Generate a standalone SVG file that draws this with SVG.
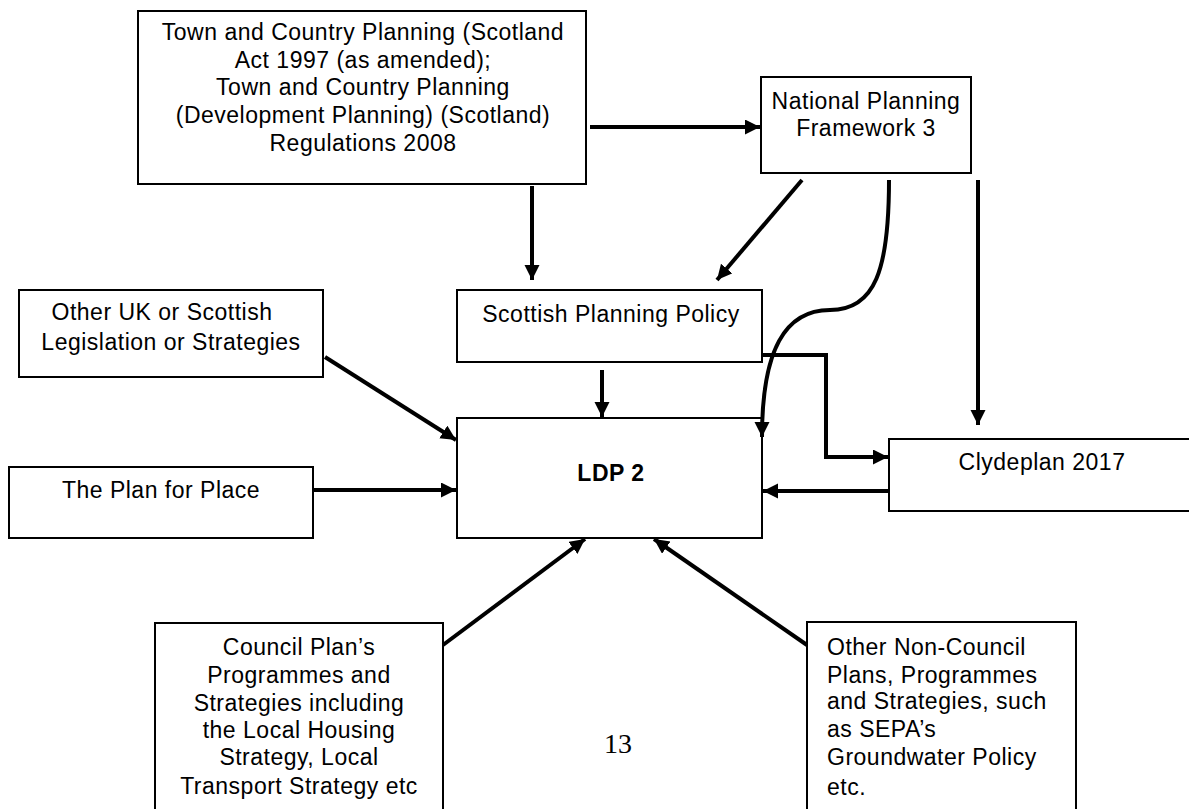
<svg xmlns="http://www.w3.org/2000/svg" width="1189" height="809" viewBox="0 0 1189 809">
<style>
.box{fill:#fff;stroke:#000;stroke-width:2}
.t{font-family:"Liberation Sans",Arial,sans-serif;font-size:23px;fill:#000;letter-spacing:0.5px}
.c{text-anchor:middle}
.b{font-weight:bold}
.con{fill:none;stroke:#000;stroke-width:4}
</style>
<defs>
<marker id="ah" markerUnits="userSpaceOnUse" markerWidth="16" markerHeight="16" refX="15" refY="7.5" orient="auto">
<path d="M0,0 L15,7.5 L0,15 z" fill="#000"/>
</marker>
</defs>
<rect width="1189" height="809" fill="#fff"/>

<g id="act">
<rect class="box" x="138" y="11" width="448" height="173"/>
<text class="t c" x="363" y="40">Town and Country Planning (Scotland</text>
<text class="t c" x="363" y="68">Act 1997 (as amended);</text>
<text class="t c" x="363" y="95">Town and Country Planning</text>
<text class="t c" x="363" y="123">(Development Planning) (Scotland)</text>
<text class="t c" x="363" y="151">Regulations 2008</text>
</g>

<g id="npf3">
<rect class="box" x="761" y="77" width="210" height="96"/>
<text class="t c" x="866" y="109">National Planning</text>
<text class="t c" x="866" y="136">Framework 3</text>
</g>

<g id="otheruk">
<rect class="box" x="19" y="290" width="304" height="87"/>
<text class="t c" x="162" y="320">Other UK or Scottish</text>
<text class="t c" x="171" y="350">Legislation or Strategies</text>
</g>

<g id="spp">
<rect class="box" x="457" y="290" width="305" height="72"/>
<text class="t c" x="611" y="322">Scottish Planning Policy</text>
</g>

<g id="ldp2">
<rect class="box" x="457" y="418" width="305" height="120"/>
<text class="t c b" x="611" y="481">LDP 2</text>
</g>

<g id="clydeplan">
<rect class="box" x="889" y="439" width="310" height="72"/>
<text class="t c" x="1042" y="470">Clydeplan 2017</text>
</g>

<g id="planforplace">
<rect class="box" x="9" y="467" width="304" height="71"/>
<text class="t c" x="161" y="498">The Plan for Place</text>
</g>

<g id="council">
<rect class="box" x="155" y="623" width="288" height="200"/>
<text class="t c" x="299" y="655">Council Plan’s</text>
<text class="t c" x="299" y="683">Programmes and</text>
<text class="t c" x="299" y="711">Strategies including</text>
<text class="t c" x="299" y="738">the Local Housing</text>
<text class="t c" x="299" y="765">Strategy, Local</text>
<text class="t c" x="299" y="794">Transport Strategy etc</text>
</g>

<g id="noncouncil">
<rect class="box" x="807" y="622" width="269" height="200"/>
<text class="t" x="827" y="655">Other Non-Council</text>
<text class="t" x="827" y="683">Plans, Programmes</text>
<text class="t" x="827" y="709">and Strategies, such</text>
<text class="t" x="827" y="737">as SEPA’s</text>
<text class="t" x="827" y="765">Groundwater Policy</text>
<text class="t" x="827" y="795">etc.</text>
</g>

<g id="connectors">
<line class="con" x1="590" y1="127" x2="760" y2="127" marker-end="url(#ah)"/>
<line class="con" x1="532" y1="186" x2="532" y2="280" marker-end="url(#ah)"/>
<line class="con" x1="802" y1="180" x2="717" y2="280" marker-end="url(#ah)"/>
<path class="con" d="M889,180 C889,270 875,310 830,310 C785,310 762,350 762,437" marker-end="url(#ah)"/>
<line class="con" x1="978" y1="180" x2="978" y2="425" marker-end="url(#ah)"/>
<polyline class="con" points="763,355 826,355 826,457 888,457" marker-end="url(#ah)"/>
<line class="con" x1="602" y1="370" x2="602" y2="417" marker-end="url(#ah)"/>
<line class="con" x1="325" y1="357" x2="456" y2="440" marker-end="url(#ah)"/>
<line class="con" x1="314" y1="490" x2="456" y2="490" marker-end="url(#ah)"/>
<line class="con" x1="888" y1="491" x2="763" y2="491" marker-end="url(#ah)"/>
<line class="con" x1="443" y1="645" x2="585" y2="539" marker-end="url(#ah)"/>
<line class="con" x1="807" y1="645" x2="654" y2="539" marker-end="url(#ah)"/>
</g>

<text x="604" y="753" font-family="'Liberation Serif','Times New Roman',serif" font-size="28" fill="#000">13</text>
</svg>
